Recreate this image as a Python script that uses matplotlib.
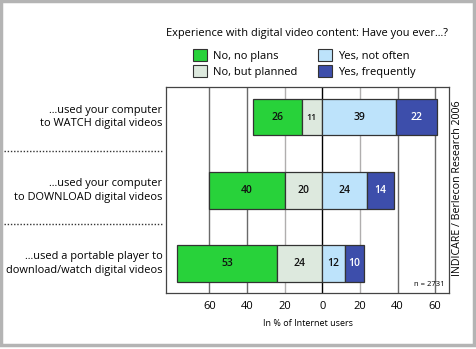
import matplotlib.pyplot as plt
from matplotlib.patches import Patch, Rectangle
import matplotlib.transforms as mtransforms

plt.rcParams['font.family'] = ['Open Sans', 'DejaVu Sans']

# data
questions = ["...used your computer\nto WATCH digital videos",
             "...used your computer\nto DOWNLOAD digital videos",
             "...used a portable player to\ndownload/watch digital videos"]
no_plans = [26, 40, 53]
no_planned = [11, 20, 24]
yes_not_often = [39, 24, 12]
yes_frequently = [22, 14, 10]
series_names = ["No, no plans", "No, but planned", "Yes, not often", "Yes, frequently"]
colors = ["#28d23a", "#dde9de", "#bde3fb", "#3d4eab"]
ticks = [-60, -40, -20, 0, 20, 40, 60]

fig = plt.figure(figsize=(4.77, 3.49), dpi=100)
ax = fig.add_axes([0.348, 0.1605, 0.594, 0.590])

rows = range(len(questions))
# negative side: no plans further out, planned next to zero
left_np = [-(a + b) for a, b in zip(no_plans, no_planned)]
left_pl = [-b for b in no_planned]
bars = [
    ax.barh(rows, no_plans, left=left_np, height=0.5, color=colors[0], edgecolor="#333333", linewidth=0.9, zorder=3),
    ax.barh(rows, no_planned, left=left_pl, height=0.5, color=colors[1], edgecolor="#333333", linewidth=0.9, zorder=3),
    ax.barh(rows, yes_not_often, left=0, height=0.5, color=colors[2], edgecolor="#333333", linewidth=0.9, zorder=3),
    ax.barh(rows, yes_frequently, left=yes_not_often, height=0.5, color=colors[3], edgecolor="#333333", linewidth=0.9, zorder=3),
]

for i, group in enumerate(bars):
    vals = [no_plans, no_planned, yes_not_often, yes_frequently][i]
    for rect, v in zip(group, vals):
        cx = rect.get_x() + rect.get_width() / 2
        cy = rect.get_y() + rect.get_height() / 2
        ax.text(cx, cy, str(v), ha="center", va="center", zorder=4,
                fontsize=6.3 if (i == 1 and v < 15) else 7.5, fontweight="semibold",
                color="white" if i == 3 else "#111111")

for t in ticks:
    if t == 0:
        ax.axvline(0, color="black", linewidth=1.0, zorder=2)
    else:
        ax.axvline(t, color="#b0aeae" if abs(t) == 20 else "#6a6a6a", linewidth=1.0, zorder=1)

ax.set_xlim(-83, 67.5)
ax.set_ylim(2.4, -0.41)
ax.set_xticks(ticks)
ax.set_xticklabels([str(abs(t)) for t in ticks], fontsize=8)
ax.tick_params(axis="x", length=0, pad=6)
ax.set_yticks([])
for s in ax.spines.values():
    s.set_color("#444444")
    s.set_linewidth(0.9)
ax.set_xlabel("In % of Internet users", fontsize=6.5, labelpad=5)

# row labels and dotted separators on the left
trans = mtransforms.blended_transform_factory(ax.transAxes, ax.transData)
for r, q in zip(rows, questions):
    ax.text(-0.012, r, q, transform=trans, ha="right", va="center", fontsize=7.9,
            linespacing=1.3)
for y in [0.46, 1.46]:
    ax.plot([-0.57, -0.01], [y, y], transform=trans, color="#333333", linestyle=(0, (1, 1.3)),
            linewidth=1.0, clip_on=False)

ax.text(0.985, 0.025, "n = 2731", transform=ax.transAxes, ha="right", va="bottom", fontsize=5.5)

fig.text(0.644, 0.905, "Experience with digital video content: Have you ever...?",
         ha="center", va="center", fontsize=7.9)

handles = [Patch(facecolor=c, edgecolor="#333333", linewidth=0.8) for c in colors]
fig.legend(handles, series_names, ncol=2, loc="center", bbox_to_anchor=(0.638, 0.818),
           frameon=False, fontsize=8.0, handlelength=1.3, handleheight=1.2,
           handletextpad=0.55, columnspacing=1.8, labelspacing=0.35, borderpad=0.2)

fig.text(0.959, 0.461, "INDICARE / Berlecon Research 2006", rotation=90,
         ha="center", va="center", fontsize=7.7)

# grey frame around the picture
fig.patches.append(Rectangle((0.002, 0.012), 0.992, 0.985, transform=fig.transFigure,
                             fill=False, edgecolor="#b4b4b4", linewidth=2.5))

fig.savefig("out.png", dpi=100)
